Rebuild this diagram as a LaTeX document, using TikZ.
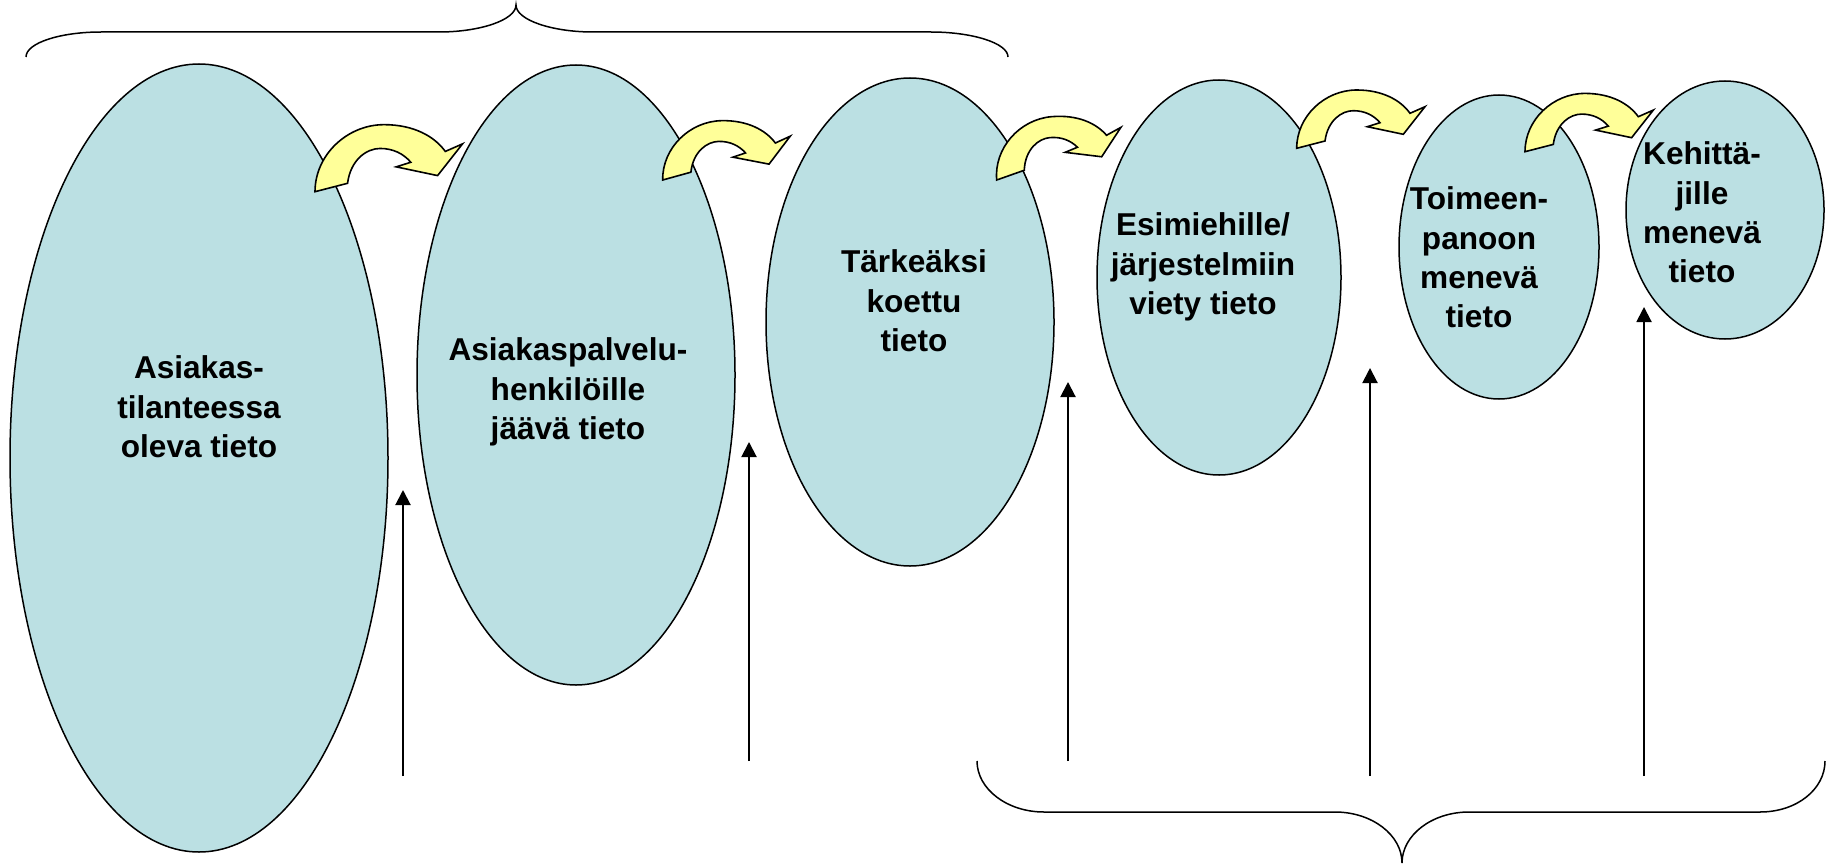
\documentclass[tikz,border=0pt]{standalone}
\usepackage{fontspec}
\setmainfont{Liberation Sans}
\usetikzlibrary{arrows.meta,shapes.geometric}

\definecolor{bubblefill}{RGB}{187,224,227}
\definecolor{arrowyellow}{RGB}{255,255,153}

\tikzset{
  bubble/.style={ellipse, draw=black, line width=1.5pt, fill=bubblefill, inner sep=0pt},
  lbl/.style={align=center, font=\fontsize{31.6}{39.3}\selectfont\bfseries, inner sep=0pt},
  riser/.style={line width=2pt, -{Triangle[width=15pt,length=15pt]}},
  brace/.style={line width=1.5pt},
  bendarrow/.pic={
    \path[draw=black, line width=1.6pt, fill=arrowyellow, line join=miter]
      (0,0) .. controls (0,-32) and (28,-58.3) .. (60,-58.3)
      .. controls (86,-58.3) and (104,-48) .. (113.3,-35)
      -- (128.3,-41.6) -- (106.6,-14) -- (70.6,-21.6) -- (83.3,-25.6)
      .. controls (77,-33) and (68,-37.6) .. (56.6,-37.6)
      .. controls (45,-37.6) and (31,-28) .. (28.3,-7.3) -- cycle;
  },
}

\begin{document}
\begin{tikzpicture}[x=1pt, y=-1pt]
\useasboundingbox (0,0) rectangle (1833,864);

% the six stages, shrinking from left to right
\node[bubble, minimum width=378pt, minimum height=788pt] (e1) at (199,458) {};
\node[bubble, minimum width=318pt, minimum height=620pt] (e2) at (576,375) {};
\node[bubble, minimum width=288pt, minimum height=488pt] (e3) at (910,322) {};
\node[bubble, minimum width=244pt, minimum height=395pt] (e4) at (1219,277.5) {};
\node[bubble, minimum width=200pt, minimum height=304pt] (e5) at (1499,247) {};
\node[bubble, minimum width=198pt, minimum height=258pt] (e6) at (1725,210) {};

% stage texts
\node[lbl] (t1) at (199,407) {Asiakas-\\tilanteessa\\oleva tieto};
\node[lbl] (t2) at (568,392) {Asiakaspalvelu-\\henkilöille\\jäävä tieto};
\node[lbl] (t3) at (914,301) {Tärkeäksi\\koettu\\tieto};
\node[lbl] (t4) at (1203,267) {Esimiehille/\\järjestelmiin\\viety tieto};
\node[lbl] (t5) at (1479,257.5) {Toimeen-\\panoon\\menevä\\tieto};
\node[lbl] (t6) at (1702,212.5) {Kehittä-\\jille\\menevä\\tieto};

% curved arrows between neighbouring stages
\pic[scale=1.15] at (315,191.7) {bendarrow};
\pic[rotate=1] at (662.7,180) {bendarrow};
\pic[rotate=5] at (996.7,180) {bendarrow};
\pic at (1296.7,148.3) {bendarrow};
\pic at (1525,151.7) {bendarrow};

% rising arrows
\coordinate (r1s) at (403,776);  \coordinate (r1e) at (403,490);
\coordinate (r2s) at (749,761);  \coordinate (r2e) at (749,442);
\coordinate (r3s) at (1068,761); \coordinate (r3e) at (1068,382);
\coordinate (r4s) at (1370,776); \coordinate (r4e) at (1370,368);
\coordinate (r5s) at (1644,776); \coordinate (r5e) at (1644,307);
\draw[riser] (r1s) -- (r1e);
\draw[riser] (r2s) -- (r2e);
\draw[riser] (r3s) -- (r3e);
\draw[riser] (r4s) -- (r4e);
\draw[riser] (r5s) -- (r5e);

% upper brace over the first three stages
\draw[brace] (26,57) .. controls (26,43) and (60,32) .. (101,32) -- (439,32)
  .. controls (480,32) and (516,20) .. (516,5)
  .. controls (516,20) and (552,32) .. (593,32) -- (931,32)
  .. controls (972,32) and (1008,43) .. (1008,57);

% lower brace under the last four rising arrows
\draw[brace] (977,761) .. controls (977,789) and (1007,812) .. (1044,812) -- (1335,812)
  .. controls (1372,812) and (1402,835) .. (1402,863)
  .. controls (1402,835) and (1432,812) .. (1469,812) -- (1760,812)
  .. controls (1797,812) and (1825,789) .. (1825,761);
\end{tikzpicture}
\end{document}
